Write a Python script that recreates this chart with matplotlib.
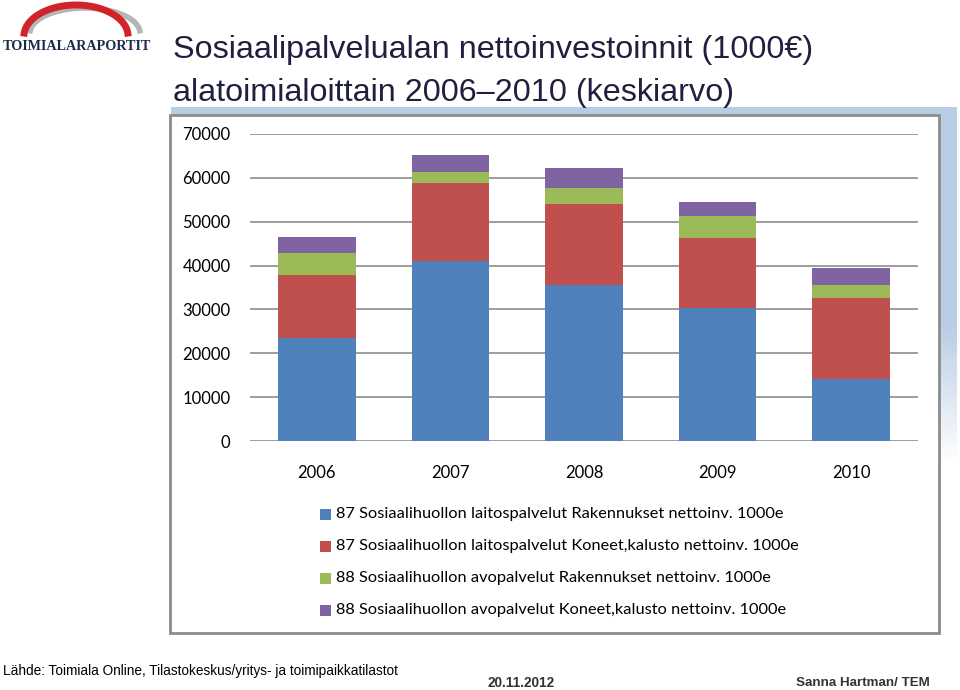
import matplotlib.pyplot as plt
import matplotlib.patches as mpatches
import numpy as np

# data (1000 e)
years = ['2006', '2007', '2008', '2009', '2010']
laitos_rak = [23500, 41000, 35600, 30300, 14100]
laitos_kon = [14300, 17800, 18500, 16000, 18500]
avo_rak = [5000, 2500, 3600, 5000, 3000]
avo_kon = [3700, 3900, 4600, 3200, 3900]
series_labels = [
    '87 Sosiaalihuollon laitospalvelut Rakennukset nettoinv. 1000e',
    '87 Sosiaalihuollon laitospalvelut Koneet,kalusto nettoinv. 1000e',
    '88 Sosiaalihuollon avopalvelut Rakennukset nettoinv. 1000e',
    '88 Sosiaalihuollon avopalvelut Koneet,kalusto nettoinv. 1000e',
]
yticks = [0, 10000, 20000, 30000, 40000, 50000, 60000, 70000]

colors = ['#4F81BD', '#C0504D', '#9BBB59', '#8064A2']
W, H = 960, 690
body_font = ['Lato', 'DejaVu Sans']
arial = ['Liberation Sans', 'DejaVu Sans']


def px(x, y, w, h):
    # pixel box (top-left origin) -> figure fraction
    return [x / W, 1 - (y + h) / H, w / W, h / H]


fig = plt.figure(figsize=(9.6, 6.9), dpi=100)
fig.patch.set_facecolor('white')

# chart frame with light blue shadow
bg = fig.add_axes([0, 0, 1, 1])
bg.set_xlim(0, W)
bg.set_ylim(H, 0)
bg.axis('off')
shadow = '#B8CCE4'
bg.add_patch(mpatches.Rectangle((171, 107), 786, 9, facecolor=shadow, edgecolor='none'))
for i in range(70):
    y0 = 116 + i * 5
    a = 1.0 if y0 < 320 else max(0, 1 - (y0 - 320) / 140)
    bg.add_patch(mpatches.Rectangle((939, y0), 18, 5, facecolor=shadow,
                                    edgecolor='none', alpha=a))
bg.add_patch(mpatches.Rectangle((170, 115), 769, 518, facecolor='white',
                                edgecolor='#8C8C8C', linewidth=2))

# logo
theta = np.linspace(np.pi * 0.03, np.pi * 0.97, 100)
bg.plot(85 + 55 * np.cos(theta), 33 - 25 * np.sin(theta), color='#B5B5B5', lw=4)
bg.plot(76 + 52 * np.cos(theta), 36 - 31 * np.sin(theta), color='#D2232A', lw=5)
bg.text(3, 46, 'TOIMIALARAPORTIT', fontsize=10.2, fontweight='bold',
        family=['Liberation Serif', 'DejaVu Serif'], color='#1A2A4A',
        va='center', ha='left')

# title
bg.text(173, 50, 'Sosiaalipalvelualan nettoinvestoinnit (1000€)', fontsize=23.3,
        family=arial, color='#1F1F3F', va='center', ha='left')
bg.text(173, 93, 'alatoimialoittain 2006\u20132010 (keskiarvo)', fontsize=23.3,
        family=arial, color='#1F1F3F', va='center', ha='left')

# footer
bg.text(3, 671, 'Lähde: Toimiala Online, Tilastokeskus/yritys- ja toimipaikkatilastot',
        fontsize=9.8, family=arial, va='center', ha='left')
bg.text(487, 683, '20.11.2012', fontsize=9.8, fontweight='bold', family=arial,
        color='#333333', va='center', ha='left')
bg.text(930, 683, 'Sanna Hartman/ TEM', fontsize=9.6, fontweight='bold', family=arial,
        color='#333333', va='center', ha='right')

# bars
ax = fig.add_axes(px(250, 134, 668, 307))
x = np.arange(len(years))
bottom = np.zeros(len(years))
for vals, c in zip([laitos_rak, laitos_kon, avo_rak, avo_kon], colors):
    ax.bar(x, vals, width=0.58, bottom=bottom, color=c, zorder=3)
    bottom += np.array(vals)

ax.set_xlim(-0.5, len(years) - 0.5)
ax.set_ylim(0, 70000)
ax.set_yticks(yticks)
ax.set_yticklabels([str(v) for v in yticks], family=body_font, fontsize=12)
ax.set_xticks(x)
ax.set_xticklabels(years, family=body_font, fontsize=12)
ax.tick_params(axis='y', length=0, pad=14)
ax.tick_params(axis='x', length=0, pad=17)
ax.grid(axis='y', color='#8C8C8C', linewidth=1.2, zorder=0)
for s in ax.spines.values():
    s.set_visible(False)
ax.set_facecolor('none')

# legend
for i, (lab, c) in enumerate(zip(series_labels, colors)):
    yy = 514 + i * 32
    bg.add_patch(mpatches.Rectangle((320, yy - 5), 11, 11, facecolor=c, edgecolor='none'))
    bg.text(336, yy, lab, fontsize=11.8, family=body_font, va='center', ha='left')

fig.savefig('out.png', dpi=100)
